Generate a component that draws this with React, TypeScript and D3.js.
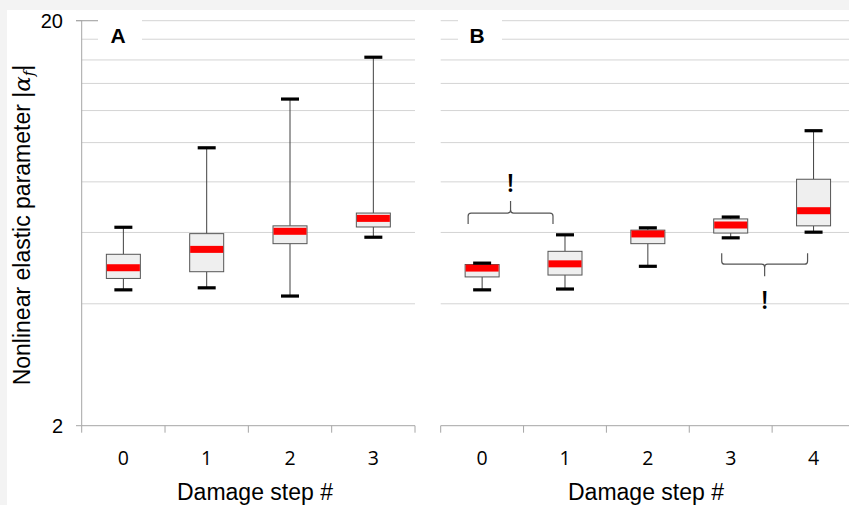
import React from "react";
import * as d3 from "d3";

const stepsA = ["0", "1", "2", "3"];
const minA = [4.33, 4.38, 4.18, 5.84];
const q1A = [4.62, 4.8, 5.63, 6.19];
const medA = [4.91, 5.45, 6.04, 6.5];
const q3A = [5.3, 5.96, 6.23, 6.7];
const maxA = [6.18, 9.71, 12.81, 16.25];

const stepsB = ["0", "1", "2", "3", "4"];
const minB = [4.33, 4.35, 4.95, 5.82, 6.01];
const q1B = [4.66, 4.71, 5.63, 5.98, 6.23];
const medB = [4.9, 5.02, 5.95, 6.26, 6.79];
const q3B = [5.0, 5.39, 6.08, 6.48, 8.12];
const maxB = [5.04, 5.92, 6.16, 6.55, 10.7];

const gridValues = [4, 6, 8, 10, 12, 14, 16, 18, 20];
const yTickLabels = [2, 20];
const braceLevels = [6.7, 5.01];

const W = 849;
const H = 505;

const y = d3.scaleLog().domain([2, 20]).range([425.7, 20.7]);
const xA = d3.scaleBand<string>().domain(stepsA).range([81.7, 415]);
const xB = d3.scaleBand<string>().domain(stepsB).range([440.7, 855]);

const BOX_W = 34;
const CAP_W = 18;

type Panel = {
  x: d3.ScaleBand<string>;
  steps: string[];
  mins: number[];
  q1s: number[];
  meds: number[];
  q3s: number[];
  maxs: number[];
};

function Boxes({ p }: { p: Panel }) {
  return (
    <g>
      {p.steps.map((s, i) => {
        const cx = (p.x(s) as number) + p.x.bandwidth() / 2;
        const yMax = y(p.maxs[i]);
        const yMin = y(p.mins[i]);
        const yQ3 = y(p.q3s[i]);
        const yQ1 = y(p.q1s[i]);
        const yMed = y(p.meds[i]);
        return (
          <g key={s}>
            <line x1={cx} x2={cx} y1={yMax} y2={yQ3} stroke="#404040" strokeWidth={1} />
            <line x1={cx} x2={cx} y1={yQ1} y2={yMin} stroke="#404040" strokeWidth={1} />
            <rect
              x={cx - BOX_W / 2}
              y={yQ3}
              width={BOX_W}
              height={yQ1 - yQ3}
              fill="#efefef"
              stroke="#555"
              strokeWidth={1}
            />
            <rect x={cx - BOX_W / 2 + 0.5} y={yMed - 3.5} width={BOX_W - 1} height={7} fill="#ff0000" />
            <line x1={cx - CAP_W / 2} x2={cx + CAP_W / 2} y1={yMax} y2={yMax} stroke="#000" strokeWidth={3.2} />
            <line x1={cx - CAP_W / 2} x2={cx + CAP_W / 2} y1={yMin} y2={yMin} stroke="#000" strokeWidth={3.2} />
          </g>
        );
      })}
    </g>
  );
}

function XAxis({ x, steps, label, labelX }: { x: d3.ScaleBand<string>; steps: string[]; label: string; labelX: number }) {
  const [r0, r1] = x.range();
  const yAx = 425.7;
  const ticks = steps.map((s) => x(s) as number).concat([r1]);
  return (
    <g>
      <line x1={r0} x2={r1} y1={yAx} y2={yAx} stroke="#a6a6a6" strokeWidth={1} />
      {ticks.map((t, i) => (
        <line key={i} x1={t} x2={t} y1={yAx} y2={yAx + 7} stroke="#a6a6a6" strokeWidth={1} />
      ))}
      {steps.map((s) => (
        <text
          key={s}
          x={(x(s) as number) + x.bandwidth() / 2}
          y={465}
          textAnchor="middle"
          fontFamily="'Open Sans', sans-serif"
          fontSize={19.5}
          fill="#000"
        >
          {s}
        </text>
      ))}
      <text x={labelX} y={500} textAnchor="middle" fontFamily="'Liberation Sans', Arial, sans-serif" fontSize={23} fill="#000">
        {label}
      </text>
    </g>
  );
}

function Grid({ x0, x1, gapFrom, gapTo }: { x0: number; x1: number; gapFrom: number; gapTo: number }) {
  return (
    <g>
      {gridValues.map((v) => {
        const yy = y(v);
        if (v >= 18) {
          return (
            <g key={v}>
              <line x1={x0} x2={gapFrom} y1={yy} y2={yy} stroke="#d4d4d4" strokeWidth={1} />
              <line x1={gapTo} x2={x1} y1={yy} y2={yy} stroke="#d4d4d4" strokeWidth={1} />
            </g>
          );
        }
        return <line key={v} x1={x0} x2={x1} y1={yy} y2={yy} stroke="#d4d4d4" strokeWidth={1} />;
      })}
    </g>
  );
}

function bracePath(xl: number, xr: number, yy: number, up: boolean) {
  const s = up ? 1 : -1;
  const xm = (xl + xr) / 2;
  const endLen = 11 * s;
  const tipLen = -12 * s;
  const r = 3;
  return [
    `M${xl},${yy + endLen}`,
    `L${xl},${yy + r * s}`,
    `Q${xl},${yy} ${xl + r},${yy}`,
    `L${xm - r},${yy}`,
    `Q${xm},${yy} ${xm},${yy - r * s}`,
    `L${xm},${yy + tipLen}`,
    `M${xm},${yy - r * s}`,
    `Q${xm},${yy} ${xm + r},${yy}`,
    `L${xr - r},${yy}`,
    `Q${xr},${yy} ${xr},${yy + r * s}`,
    `L${xr},${yy + endLen}`,
  ].join(" ");
}

export default function App() {
  const cB = (s: string) => (xB(s) as number) + xB.bandwidth() / 2;
  const b1y = y(braceLevels[0]);
  const b1l = cB("0") - 14;
  const b1r = cB("1") - 12;
  const b2y = y(braceLevels[1]);
  const b2l = cB("3") - 9;
  const b2r = cB("4") - 6;

  return (
    <svg width={W} height={H} style={{ display: "block", position: "absolute", left: 0, top: 0 }}>
      <rect x={0} y={0} width={W} height={H} fill="#f3f3f3" />
      <rect x={7} y={10} width={W - 7} height={H - 10} fill="#ffffff" />

      <Grid x0={81.7} x1={415} gapFrom={98} gapTo={142} />
      <Grid x0={440.7} x1={W} gapFrom={458} gapTo={502} />

      <line x1={81.7} x2={81.7} y1={y(20)} y2={y(2)} stroke="#a6a6a6" strokeWidth={1} />
      {yTickLabels.map((v) => (
        <g key={v}>
          <line x1={76} x2={81.7} y1={y(v)} y2={y(v)} stroke="#a6a6a6" strokeWidth={1} />
          <text
            x={63}
            y={y(v) + 7}
            textAnchor="end"
            fontFamily="'Liberation Sans', Arial, sans-serif"
            fontSize={20}
            fill="#000"
          >
            {v}
          </text>
        </g>
      ))}
      <line x1={76} x2={98} y1={y(20)} y2={y(20)} stroke="#a6a6a6" strokeWidth={1} />

      <XAxis x={xA} steps={stepsA} label="Damage step #" labelX={255} />
      <XAxis x={xB} steps={stepsB} label="Damage step #" labelX={646} />

      <Boxes p={{ x: xA, steps: stepsA, mins: minA, q1s: q1A, meds: medA, q3s: q3A, maxs: maxA }} />
      <Boxes p={{ x: xB, steps: stepsB, mins: minB, q1s: q1B, meds: medB, q3s: q3B, maxs: maxB }} />

      <text x={118} y={43} textAnchor="middle" fontFamily="'Liberation Sans', Arial, sans-serif" fontWeight="bold" fontSize={21}>
        A
      </text>
      <text x={477} y={43} textAnchor="middle" fontFamily="'Liberation Sans', Arial, sans-serif" fontWeight="bold" fontSize={21}>
        B
      </text>

      <path d={bracePath(b1l, b1r, b1y, true)} fill="none" stroke="#555" strokeWidth={1.2} />
      <text x={(b1l + b1r) / 2} y={b1y - 21} textAnchor="middle" fontFamily="'Open Sans', sans-serif" fontWeight="600" fontSize={25}>
        !
      </text>
      <path d={bracePath(b2l, b2r, b2y, false)} fill="none" stroke="#555" strokeWidth={1.2} />
      <text x={(b2l + b2r) / 2} y={b2y + 45} textAnchor="middle" fontFamily="'Open Sans', sans-serif" fontWeight="600" fontSize={25}>
        !
      </text>

      <text
        transform="translate(29.5,225) rotate(-90)"
        textAnchor="middle"
        fontFamily="'Liberation Sans', Arial, sans-serif"
        fontSize={23}
        fill="#000"
      >
        Nonlinear elastic parameter |<tspan fontStyle="italic" fontFamily="'DejaVu Serif', serif">α</tspan>
        <tspan fontStyle="italic" fontSize={15} dy={4} fontFamily="'DejaVu Serif', serif">f</tspan>
        <tspan dy={-4}>|</tspan>
      </text>
    </svg>
  );
}
